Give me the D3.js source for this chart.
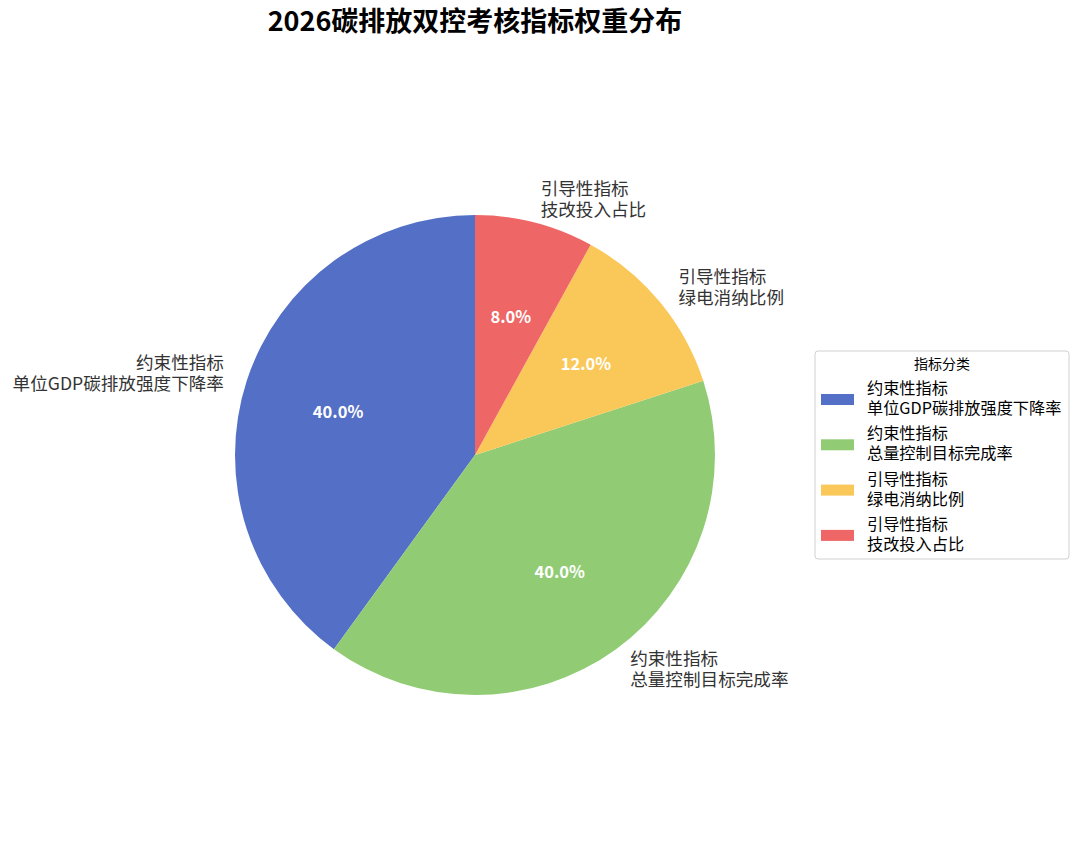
<!DOCTYPE html>
<html>
<head>
<meta charset="utf-8">
<script src="https://cdn.jsdelivr.net/npm/d3@7"></script>
<style>
  body { margin: 0; background: #fff; }
  svg { font-family: "Noto Sans CJK SC", "Noto Sans", sans-serif; }
</style>
</head>
<body>
<div id="chart"></div>
<script>
// slices, in the order they are laid out (counter-clockwise from 12 o'clock)
const groups = ["约束性指标", "约束性指标", "引导性指标", "引导性指标"];
const names = ["单位GDP碳排放强度下降率", "总量控制目标完成率", "绿电消纳比例", "技改投入占比"];
const weights = [40, 40, 12, 8];
const colors = ["#5470C6", "#91CC75", "#FAC858", "#EE6666"];

const W = 1080, H = 845;
const cx = 475, cy = 455, R = 240;

const svg = d3.select("#chart").append("svg")
    .attr("width", W)
    .attr("height", H);

// title
svg.append("text")
    .attr("x", cx)
    .attr("y", 31)
    .attr("text-anchor", "middle")
    .style("font-size", "27px")
    .style("font-weight", "bold")
    .style("fill", "#000")
    .text("2026碳排放双控考核指标权重分布");

const data = weights.map((w, i) => ({ group: groups[i], name: names[i], value: w, color: colors[i] }));
const total = d3.sum(weights);

// d3 angles go clockwise from 12 o'clock, so negate to run counter-clockwise
const pie = d3.pie()
    .value(d => d.value)
    .sort(null)
    .startAngle(0)
    .endAngle(-2 * Math.PI);

const arcs = pie(data);
const arc = d3.arc().innerRadius(0).outerRadius(R);

const g = svg.append("g").attr("transform", `translate(${cx},${cy})`);

g.selectAll("path.slice")
    .data(arcs)
    .enter().append("path")
    .attr("class", "slice")
    .attr("d", arc)
    .style("fill", d => d.data.color);

const midOf = d => (d.startAngle + d.endAngle) / 2;

// percentage labels inside slices
g.selectAll("text.pct")
    .data(arcs)
    .enter().append("text")
    .attr("class", "pct")
    .attr("x", d => Math.sin(midOf(d)) * R * 0.6)
    .attr("y", d => -Math.cos(midOf(d)) * R * 0.6)
    .attr("text-anchor", "middle")
    .attr("dominant-baseline", "central")
    .style("font-size", "16.5px")
    .style("font-weight", "bold")
    .style("fill", "#fff")
    .text(d => (d.data.value / total * 100).toFixed(1) + "%");

// outside labels (two lines)
const lab = g.selectAll("text.lab")
    .data(arcs)
    .enter().append("text")
    .attr("class", "lab")
    .attr("text-anchor", d => Math.sin(midOf(d)) < 0 ? "end" : "start")
    .style("font-size", "17.6px")
    .style("fill", "#333");

lab.each(function (d) {
    const x = Math.sin(midOf(d)) * R * 1.1;
    const y = -Math.cos(midOf(d)) * R * 1.1;
    const t = d3.select(this);
    t.append("tspan").attr("x", x).attr("y", y - 4).text(d.data.group);
    t.append("tspan").attr("x", x).attr("y", y + 17).text(d.data.name);
});

// legend
const lg = svg.append("g").attr("transform", "translate(815,351)");
lg.append("rect")
    .attr("width", 254)
    .attr("height", 208)
    .attr("rx", 3)
    .style("fill", "#fff")
    .style("stroke", "#d0d0d0")
    .style("stroke-width", 1);

lg.append("text")
    .attr("x", 127)
    .attr("y", 18)
    .attr("text-anchor", "middle")
    .style("font-size", "14px")
    .style("fill", "#000")
    .text("指标分类");

const item = lg.selectAll("g.item")
    .data(data)
    .enter().append("g")
    .attr("class", "item")
    .attr("transform", (d, i) => `translate(0,${48 + i * 45.3})`);

item.append("rect")
    .attr("x", 6)
    .attr("y", -5)
    .attr("width", 33)
    .attr("height", 11)
    .style("fill", d => d.color);

item.append("text")
    .attr("x", 52)
    .attr("y", -5)
    .style("font-size", "16.2px")
    .style("fill", "#000")
    .text(d => d.group);

item.append("text")
    .attr("x", 52)
    .attr("y", 15)
    .style("font-size", "16.2px")
    .style("fill", "#000")
    .text(d => d.name);
</script>
</body>
</html>
